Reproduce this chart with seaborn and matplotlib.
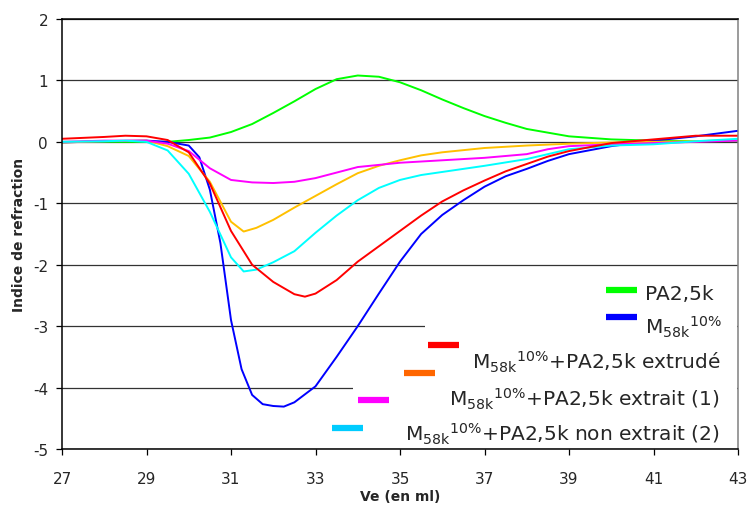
import numpy as np
import pandas as pd
import matplotlib
matplotlib.use("Agg")
import matplotlib.pyplot as plt
from matplotlib.patches import Rectangle
from matplotlib.lines import Line2D
import seaborn as sns

# --- courbes ---
x_pa = [27, 29, 29.5, 30, 30.5, 31, 31.5, 32, 32.5, 33, 33.5, 34, 34.5, 35, 35.5, 36, 36.5, 37, 37.5, 38, 39, 40, 41, 42, 43]
y_pa = [0, 0, 0.0, 0.03, 0.07, 0.16, 0.29, 0.47, 0.66, 0.86, 1.02, 1.08, 1.06, 0.97, 0.84, 0.69, 0.55, 0.42, 0.31, 0.21, 0.09, 0.04, 0.02, 0.01, 0.02]

x_m58 = [27, 28, 29, 29.5, 30, 30.25, 30.5, 30.75, 31, 31.25, 31.5, 31.75, 32, 32.25, 32.5, 33, 33.5, 34, 34.5, 35,
         35.5, 36, 36.5, 37, 37.5, 38, 38.5, 39, 40, 41, 42, 43]
y_m58 = [-0.01, 0.01, 0.02, 0.0, -0.06, -0.25, -0.78, -1.65, -2.9, -3.7, -4.12, -4.27, -4.3, -4.31, -4.24, -3.98, -3.5, -3.0, -2.47, -1.95,
         -1.5, -1.19, -0.95, -0.73, -0.56, -0.44, -0.31, -0.2, -0.07, 0.02, 0.09, 0.18]

x_extr = [27, 28, 28.5, 29, 29.5, 30, 30.5, 31, 31.5, 32, 32.5, 32.75, 33, 33.5, 34, 34.5, 35, 35.5, 36, 36.5, 37, 37.5, 38, 38.5, 39, 40, 41, 42, 43]
y_extr = [0.05, 0.08, 0.1, 0.09, 0.03, -0.17, -0.68, -1.45, -2.0, -2.28, -2.48, -2.52, -2.47, -2.25, -1.95, -1.7, -1.45, -1.2, -0.97, -0.79, -0.63, -0.48, -0.36, -0.24, -0.15, -0.02, 0.04, 0.1, 0.1]

x_ext1 = [27, 28, 29, 29.5, 30, 30.5, 31, 31.3, 31.6, 32, 32.5, 33, 33.5, 34, 34.5, 35, 35.5, 36, 37, 38, 39, 40, 41, 42, 43]
y_ext1 = [-0.01, 0.01, 0.02, -0.07, -0.23, -0.65, -1.3, -1.46, -1.4, -1.27, -1.07, -0.88, -0.69, -0.51, -0.39, -0.3, -0.22, -0.17, -0.1, -0.06, -0.03, -0.01, 0.0, 0.01, 0.03]

x_mag = [27, 28, 29, 29.5, 30, 30.5, 31, 31.5, 32, 32.5, 33, 33.5, 34, 35, 36, 37, 38, 38.5, 39, 40, 41, 42, 43]
y_mag = [0.0, 0.02, 0.02, -0.03, -0.15, -0.43, -0.62, -0.66, -0.67, -0.65, -0.59, -0.5, -0.41, -0.34, -0.3, -0.26, -0.2, -0.12, -0.07, -0.04, -0.02, 0.0, 0.02]

x_next = [27, 28, 28.5, 29, 29.5, 30, 30.5, 31, 31.3, 31.6, 32, 32.5, 33, 33.5, 34, 34.5, 35, 35.5, 36, 37, 38, 39, 40, 41, 42, 43]
y_next = [0.0, 0.01, 0.02, 0.0, -0.14, -0.52, -1.14, -1.88, -2.11, -2.08, -1.96, -1.78, -1.48, -1.2, -0.95, -0.75, -0.62, -0.54, -0.49, -0.39, -0.28, -0.12, -0.06, -0.04, 0.01, 0.05]

series = [
    (x_pa, y_pa, '#00ff00'),
    (x_m58, y_m58, '#0000ff'),
    (x_ext1, y_ext1, '#ffc000'),
    (x_mag, y_mag, '#ff00ff'),
    (x_next, y_next, '#00ffff'),
    (x_extr, y_extr, '#ff0000'),
]

M = r'M$_\mathregular{58k}$$^\mathregular{10\%}$'
leg_labels = ['PA2,5k', M, M + '+PA2,5k extrudé', M + '+PA2,5k extrait (1)', M + '+PA2,5k non extrait (2)']

xticks = [27, 29, 31, 33, 35, 37, 39, 41, 43]
yticks = [-5, -4, -3, -2, -1, 0, 1, 2]

sns.set_style("white")
plt.rcParams['font.family'] = ['DejaVu Sans']
plt.rcParams['axes.unicode_minus'] = False

W, H = 749, 506
fig = plt.figure(figsize=(W / 100, H / 100), dpi=100)
ax = fig.add_axes([62 / W, 1 - 450 / H, (738 - 62) / W, (450 - 20) / H])

for xs, ys, c in series:
    sns.lineplot(x=xs, y=ys, color=c, lw=1.4, ax=ax, sort=False, zorder=2)

ax.set_xlim(27, 43)
ax.set_ylim(-5, 2)
ax.set_xticks(xticks)
ax.set_yticks(yticks)
for yv in yticks:
    ax.axhline(yv, color='#333333', lw=0.9, zorder=1)

ax.tick_params(axis='both', direction='out', length=4, width=0.9, color='black', labelsize=11)
ax.tick_params(axis='x', pad=12)
ax.tick_params(axis='y', pad=6)
ax.yaxis.set_ticks_position('left')
ax.xaxis.set_ticks_position('bottom')
for s in ['left', 'bottom', 'top']:
    ax.spines[s].set_color('black')
    ax.spines[s].set_linewidth(1.1)
ax.spines['right'].set_color('#808080')
ax.spines['right'].set_linewidth(1.1)

ax.set_xlabel('Ve (en ml)', fontsize=10, fontweight='bold', labelpad=2)
ax.set_ylabel('Indice de refraction', fontsize=10, fontweight='bold', labelpad=5)

# fond blanc de la légende
def px(xp, yp):
    return xp / W, 1 - yp / H

for x0, y0, x1, y1 in [(425, 272, 737, 449), (353, 360, 425, 449)]:
    fx, fy = px(x0, y1)
    fig.patches.append(Rectangle((fx, fy), (x1 - x0) / W, (y1 - y0) / H, transform=fig.transFigure,
                                 facecolor='white', edgecolor='none', zorder=3))

# échantillons de couleur
swatches = [(606, 291, '#00ff00'), (606, 318, '#0000ff'), (428, 346, '#ff0000'),
            (404, 374, '#ff6600'), (358, 401, '#ff00ff'), (332, 429, '#00ccff')]
for xs0, ys0, c in swatches:
    a, b = px(xs0, ys0)
    a2, _ = px(xs0 + 31, ys0)
    fig.add_artist(Line2D([a, a2], [b, b], color=c, lw=4.5, solid_capstyle='butt', zorder=4))

# textes de la légende
fig.text(645 / W, 1 - 300 / H, leg_labels[0], fontsize=14.5, ha='left', va='baseline', zorder=5)
fig.text(645 / W, 1 - 335 / H, leg_labels[1], fontsize=14.5, ha='left', va='baseline', zorder=5)
for lab, yb in zip(leg_labels[2:], [370, 407, 442]):
    fig.text(720 / W, 1 - yb / H, lab, fontsize=14.5, ha='right', va='baseline', zorder=5)

fig.savefig('out.png', dpi=100)
